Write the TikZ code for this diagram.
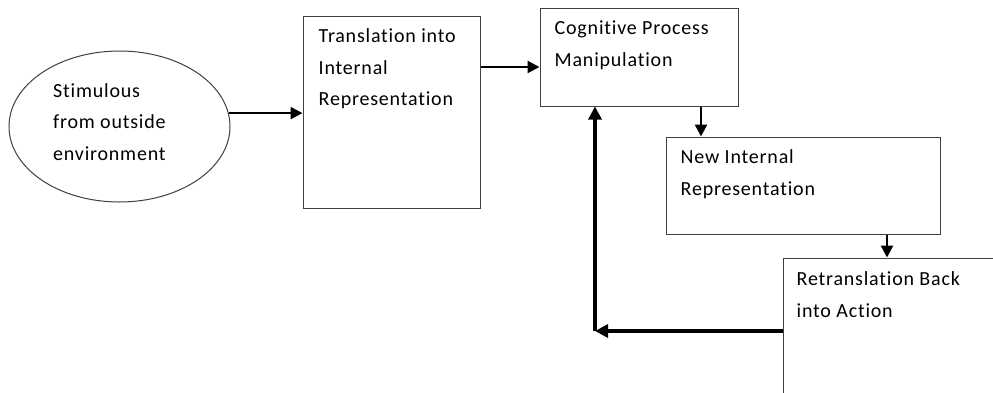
\documentclass[tikz,border=0pt]{standalone}
\usepackage{fontspec}
\setmainfont{Carlito}[Ligatures=NoCommon,LetterSpace=4]
\usetikzlibrary{arrows.meta,calc,shapes.geometric}
\begin{document}
\begin{tikzpicture}[x=1pt,y=-1pt,
  boxnode/.style={draw=black!75,line width=1pt,rectangle,inner sep=0pt},
  txt/.style={inner sep=0pt,anchor=base west,font=\fontsize{20}{31.5}\selectfont},
  arr/.style={line width=2.4pt,-{Triangle[length=12pt,width=12pt]}},
  thickarr/.style={line width=3.4pt,-{Triangle[length=13pt,width=13pt]}}]
\useasboundingbox (0,0) rectangle (993,392);
\fill[white] (0,0) rectangle (993,392);
\begin{scope}
\clip (0,0) rectangle (993,392);
\node[boxnode,ellipse,minimum width=221pt,minimum height=151pt] (ell) at (119.5,126.5) {};
\node[boxnode,minimum width=177pt,minimum height=192pt] (b1) at (391.5,112) {};
\node[boxnode,minimum width=198pt,minimum height=98pt] (b2) at (639,57) {};
\node[boxnode,minimum width=274pt,minimum height=97pt] (b3) at (803,185.5) {};
\node[boxnode,minimum width=317pt,minimum height=242pt] (b4) at (941.5,379) {};

\node[txt] (t0) at (53,97) {\parbox[t]{160pt}{\raggedright Stimulous\\from outside\\environment}};
\node[txt] (t1) at ($(b1.north west)+(16,27)$) {\parbox[t]{170pt}{\raggedright Translation into\\Internal\\Representation}};
\node[txt] (t2) at ($(b2.north west)+(15,27)$) {\parbox[t]{190pt}{\raggedright Cognitive Process\\Manipulation}};
\node[txt] (t3) at ($(b3.north west)+(15,27)$) {\parbox[t]{250pt}{\raggedright New Internal\\Representation}};
\node[txt] (t4) at ($(b4.north west)+(14,28)$) {\parbox[t]{200pt}{\raggedright Retranslation Back\\into Action}};

\draw[arr] (ell.7.5) -- (ell.7.5 -| b1.west);
\draw[arr] ($(b1.east)+(0,-45)$) coordinate (p1) -- (p1 -| b2.west);
\draw[arr] ($(b2.south)+(62,0)$) coordinate (p2) -- (p2 |- b3.north);
\draw[arr] ($(b3.south)+(84,0)$) coordinate (p3) -- (p3 |- b4.north);
\coordinate (corner) at (595,331);
\draw[thickarr] (corner -| b4.west) -- (corner);
\draw[thickarr] (corner) -- (corner |- b2.south);
\end{scope}
\end{tikzpicture}
\end{document}
